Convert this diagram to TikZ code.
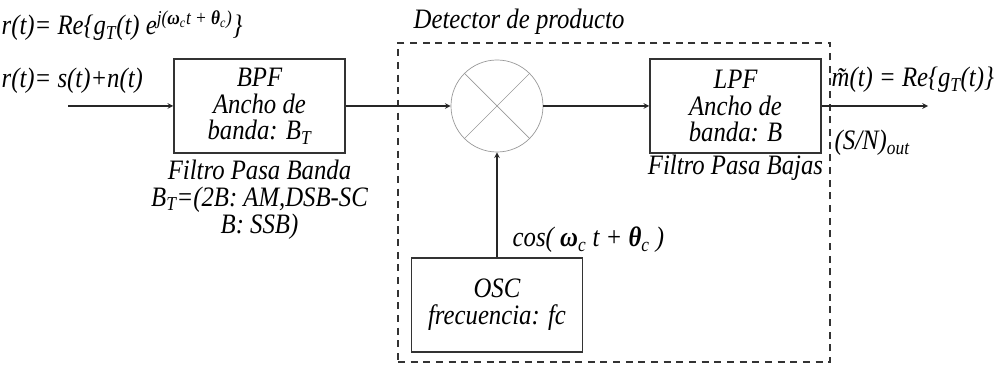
\documentclass[tikz,border=0pt]{standalone}
\usepackage{fontspec}
\setmainfont{Liberation Serif}[FakeStretch=0.88]
\usetikzlibrary{arrows,positioning}

\begin{document}
\begin{tikzpicture}[
  x=0.025cm, y=-0.025cm,                     % one unit = one pixel
  node distance    = 0.15cm,
  every node/.style = {font=\itshape\fontsize{20}{19}\selectfont},
  %--- node styles ---------------------------------------------------
  blockst/.style  = {draw=black!80, line width=0.9pt,
                     rectangle, minimum width=4.28cm, minimum height=2.35cm,
                     align=center, inner sep=2pt},
  mixst/.style    = {draw=gray!80, line width=0.5pt,
                     circle, minimum size=2.3cm, inner sep=0pt},
  detst/.style    = {draw=black!80, line width=0.8pt,
                     dash pattern=on 5pt off 4pt,
                     rectangle, minimum width=10.8cm, minimum height=7.975cm},
  lblst/.style    = {inner sep=1pt, align=center},
  arr/.style      = {->, line width=0.8pt, >=stealth, color=black!85},
]
\useasboundingbox (0,0) rectangle (1002,367);

% ---- Nodes --------------------------------------------------------
\node[detst] (det) at (614,202.5) {};
\node[lblst, anchor=west] (dettxt) at (412,22) {Detector de producto};

\node[blockst] (bpf) at (259.5,106)
    {BPF\\Ancho de\\banda: B\textsubscript{T}};

\node[mixst] (mix) at (497,106) {};

\node[blockst] (lpf) at (735.5,106)
    {LPF\\Ancho de\\banda: B};

\node[blockst] (osc) at (497,305)
    {OSC\\frecuencia: fc};

\coordinate (in)  at (68,106);
\coordinate (out) at (928,106);

% ---- Labels -------------------------------------------------------
\node[lblst, anchor=base west] (rtexp) at (0,35)
    {r(t)= Re\{g\textsubscript{T}(t) e\textsuperscript{j(\textbf{ω}\textsubscript{c}t + \textbf{θ}\textsubscript{c})}\}};
\node[lblst, anchor=base west] (rtsum) at (0,88)
    {r(t)= s(t)+n(t)};

\node[lblst, below=0.12cm of bpf] (bpfcap)
    {Filtro Pasa Banda\\B\textsubscript{T}=(2B: AM,DSB-SC\\B: SSB)};
\node[lblst, below=0.0cm of lpf] (lpfcap)
    {Filtro Pasa Bajas};

\node[lblst, anchor=west] (cosl) at (511,240)
    {cos( \textbf{ω}\textsubscript{c} t + \textbf{θ}\textsubscript{c} )};

\node[lblst, anchor=west] (mout) at (830,80)
    {\~{m}(t) = Re\{g\textsubscript{T}(t)\}};
\node[lblst, anchor=west] (snr) at (833,143)
    {(S/N)\textsubscript{out}};

% ---- Mixer cross --------------------------------------------------
\draw[draw=gray!80, line width=0.5pt] (mix.north west) -- (mix.south east);
\draw[draw=gray!80, line width=0.5pt] (mix.north east) -- (mix.south west);

% ---- Arrows -------------------------------------------------------
\draw[arr] (in)  -- (bpf);
\draw[arr] (bpf) -- (mix);
\draw[arr] (mix) -- (lpf);
\draw[arr] (lpf) -- (out);
\draw[arr] (osc) -- (mix);

\end{tikzpicture}
\end{document}
